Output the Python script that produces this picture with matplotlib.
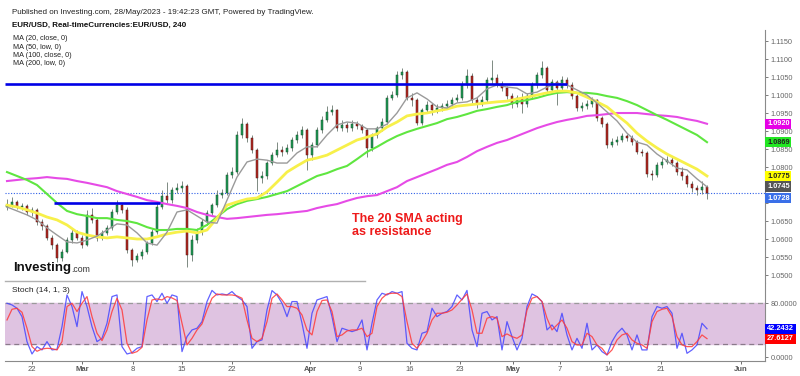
"""EUR/USD 4h chart with moving averages and stochastic, Investing.com style."""
import matplotlib
matplotlib.use("Agg")
import matplotlib.pyplot as plt
from matplotlib.lines import Line2D
import numpy as np

plt.rcParams["font.family"] = ["Liberation Sans", "DejaVu Sans"]

# ---- price data (one candle per half trading day) ----
first_open = 1.0690
closes = [
    1.0694, 1.0703, 1.0689, 1.0692, 1.0675, 1.0681, 1.0647, 1.0636, 1.0603, 1.0583,
    1.0547, 1.0564, 1.0597, 1.0617, 1.0603, 1.0583, 1.0667, 1.0653, 1.0603, 1.0617,
    1.0631, 1.0675, 1.0694, 1.0681, 1.0569, 1.0542, 1.0553, 1.0564, 1.0589, 1.0619,
    1.0689, 1.0719, 1.0708, 1.0736, 1.0742, 1.0747, 1.0556, 1.0597, 1.0619, 1.0647,
    1.0672, 1.0694, 1.0722, 1.0728, 1.0778, 1.0786, 1.0889, 1.0919, 1.0881, 1.0847,
    1.0769, 1.0775, 1.0811, 1.0833, 1.0847, 1.0842, 1.0853, 1.0875, 1.0889, 1.0903,
    1.0833, 1.0861, 1.0903, 1.0931, 1.0953, 1.0958, 1.0908, 1.0917, 1.0908, 1.0919,
    1.0914, 1.0903, 1.0853, 1.0889, 1.0908, 1.0925, 1.0992, 1.1000, 1.1056, 1.1064,
    1.0992, 1.0986, 1.0922, 1.0958, 1.0972, 1.0958, 1.0964, 1.0969, 1.0975, 1.0986,
    1.0992, 1.1028, 1.1053, 1.0986, 1.0975, 1.0986, 1.1042, 1.1047, 1.1031, 1.1019,
    1.0997, 1.0975, 1.0992, 1.0975, 1.0997, 1.1028, 1.1056, 1.1075, 1.1014, 1.1036,
    1.1019, 1.1042, 1.1028, 1.0997, 1.0964, 1.0969, 1.0975, 1.0986, 1.0936, 1.0919,
    1.0861, 1.0869, 1.0875, 1.0886, 1.0881, 1.0869, 1.0842, 1.0839, 1.0781, 1.0778,
    1.0806, 1.0814, 1.0819, 1.0811, 1.0786, 1.0775, 1.0753, 1.0742, 1.0736, 1.0744,
    1.0728,
]
highs = [
    1.0712, 1.0716, 1.0708, 1.0700, 1.0697, 1.0690, 1.0686, 1.0655, 1.0642, 1.0610,
    1.0588, 1.0572, 1.0605, 1.0630, 1.0625, 1.0610, 1.0680, 1.0685, 1.0660, 1.0625,
    1.0640, 1.0682, 1.0708, 1.0700, 1.0688, 1.0575, 1.0560, 1.0572, 1.0595, 1.0628,
    1.0700, 1.0735, 1.0758, 1.0745, 1.0756, 1.0760, 1.0752, 1.0610, 1.0630, 1.0655,
    1.0680, 1.0700, 1.0735, 1.0740, 1.0785, 1.0800, 1.0900, 1.0935, 1.0925, 1.0888,
    1.0852, 1.0790, 1.0818, 1.0842, 1.0870, 1.0858, 1.0865, 1.0882, 1.0900, 1.0915,
    1.0908, 1.0870, 1.0910, 1.0942, 1.0970, 1.0973, 1.0962, 1.0930, 1.0925, 1.0930,
    1.0928, 1.0920, 1.0908, 1.0895, 1.0915, 1.0935, 1.1000, 1.1012, 1.1068, 1.1075,
    1.1070, 1.1005, 1.0992, 1.0965, 1.0982, 1.0978, 1.0975, 1.0978, 1.0985, 1.0995,
    1.1002, 1.1040, 1.1072, 1.1060, 1.0995, 1.0998, 1.1050, 1.1097, 1.1058, 1.1040,
    1.1025, 1.1005, 1.1000, 1.1005, 1.1005, 1.1035, 1.1065, 1.1095, 1.1080, 1.1045,
    1.1042, 1.1052, 1.1050, 1.1035, 1.1003, 1.0980, 1.0985, 1.0995, 1.0990, 1.0942,
    1.0925, 1.0880, 1.0885, 1.0895, 1.0892, 1.0888, 1.0875, 1.0850, 1.0845, 1.0792,
    1.0815, 1.0825, 1.0830, 1.0828, 1.0818, 1.0800, 1.0780, 1.0760, 1.0750, 1.0762,
    1.0750,
]
lows = [
    1.0680, 1.0688, 1.0682, 1.0680, 1.0668, 1.0664, 1.0640, 1.0625, 1.0596, 1.0572,
    1.0535, 1.0540, 1.0560, 1.0590, 1.0596, 1.0575, 1.0580, 1.0645, 1.0594, 1.0598,
    1.0610, 1.0625, 1.0670, 1.0672, 1.0560, 1.0525, 1.0535, 1.0545, 1.0558, 1.0582,
    1.0615, 1.0682, 1.0700, 1.0700, 1.0728, 1.0730, 1.0522, 1.0540, 1.0590, 1.0612,
    1.0640, 1.0665, 1.0688, 1.0715, 1.0722, 1.0770, 1.0780, 1.0880, 1.0870, 1.0838,
    1.0733, 1.0755, 1.0768, 1.0805, 1.0828, 1.0830, 1.0835, 1.0845, 1.0868, 1.0880,
    1.0792, 1.0820, 1.0855, 1.0895, 1.0925, 1.0945, 1.0900, 1.0900, 1.0898, 1.0900,
    1.0905, 1.0895, 1.0828, 1.0845, 1.0880, 1.0900, 1.0920, 1.0985, 1.0995, 1.1045,
    1.0985, 1.0970, 1.0917, 1.0918, 1.0950, 1.0945, 1.0950, 1.0955, 1.0960, 1.0968,
    1.0980, 1.0985, 1.1020, 1.0978, 1.0965, 1.0970, 1.0980, 1.1030, 1.1022, 1.1010,
    1.0988, 1.0965, 1.0968, 1.0950, 1.0968, 1.0990, 1.1020, 1.1048, 1.1005, 1.1008,
    1.0972, 1.1012, 1.1020, 1.0990, 1.0955, 1.0955, 1.0962, 1.0968, 1.0928, 1.0910,
    1.0852, 1.0855, 1.0862, 1.0870, 1.0872, 1.0862, 1.0835, 1.0830, 1.0772, 1.0765,
    1.0772, 1.0798, 1.0808, 1.0802, 1.0778, 1.0765, 1.0745, 1.0730, 1.0722, 1.0725,
    1.0710,
]

# ---- moving averages, one reading per trading day ----
ma20 = [
    1.0689, 1.0678, 1.0667, 1.0653, 1.0631, 1.0611, 1.0592, 1.0589, 1.0597, 1.0608,
    1.0625, 1.0642, 1.0639, 1.0617, 1.0589, 1.0583, 1.0619, 1.0675, 1.0681, 1.0664,
    1.0647, 1.0644, 1.0708, 1.0772, 1.0814, 1.0822, 1.0819, 1.0811, 1.0811, 1.0839,
    1.0856, 1.0856, 1.0889, 1.0917, 1.0925, 1.0922, 1.0906, 1.0906, 1.0919, 1.0950,
    1.0992, 1.1006, 1.0989, 1.0967, 1.0964, 1.0978, 1.0981, 1.0992, 1.1017, 1.1028,
    1.1022, 1.1019, 1.1003, 1.1008, 1.1022, 1.1033, 1.1028, 1.1014, 1.1000, 1.0978,
    1.0953, 1.0928, 1.0894, 1.0869, 1.0861, 1.0836, 1.0817, 1.0797, 1.0792, 1.0767,
    1.0745,
]
ma50 = [
    1.0694, 1.0689, 1.0681, 1.0672, 1.0661, 1.0653, 1.0639, 1.0619, 1.0611, 1.0606,
    1.0603, 1.0606, 1.0603, 1.0600, 1.0600, 1.0606, 1.0614, 1.0619, 1.0622, 1.0617,
    1.0625, 1.0658, 1.0694, 1.0703, 1.0711, 1.0714, 1.0731, 1.0758, 1.0786, 1.0803,
    1.0819, 1.0825, 1.0833, 1.0847, 1.0861, 1.0875, 1.0883, 1.0892, 1.0911, 1.0925,
    1.0942, 1.0947, 1.0950, 1.0956, 1.0961, 1.0969, 1.0972, 1.0975, 1.0978, 1.0981,
    1.0983, 1.0989, 1.0994, 1.1000, 1.1006, 1.1011, 1.1011, 1.1006, 1.0994, 1.0981,
    1.0967, 1.0944, 1.0922, 1.0894, 1.0872, 1.0853, 1.0836, 1.0822, 1.0808, 1.0794,
    1.0775,
]
ma100 = [
    1.0786, 1.0775, 1.0764, 1.0750, 1.0725, 1.0700, 1.0678, 1.0669, 1.0664, 1.0658,
    1.0658, 1.0653, 1.0650, 1.0644, 1.0633, 1.0625, 1.0625, 1.0628, 1.0628, 1.0625,
    1.0639, 1.0661, 1.0683, 1.0697, 1.0706, 1.0711, 1.0717, 1.0725, 1.0733, 1.0747,
    1.0761, 1.0775, 1.0783, 1.0794, 1.0803, 1.0822, 1.0842, 1.0856, 1.0872, 1.0886,
    1.0897, 1.0906, 1.0914, 1.0922, 1.0933, 1.0939, 1.0947, 1.0956, 1.0961, 1.0967,
    1.0972, 1.0981, 1.0986, 1.0992, 1.1000, 1.1006, 1.1008, 1.1006, 1.1006, 1.1003,
    1.0997, 1.0992, 1.0983, 1.0972, 1.0958, 1.0944, 1.0931, 1.0917, 1.0903, 1.0889,
    1.0869,
]
ma200 = [
    1.0761, 1.0764, 1.0767, 1.0769, 1.0772, 1.0769, 1.0767, 1.0761, 1.0756, 1.0750,
    1.0744, 1.0733, 1.0725, 1.0717, 1.0708, 1.0703, 1.0697, 1.0692, 1.0686, 1.0675,
    1.0667, 1.0661, 1.0656, 1.0658, 1.0661, 1.0664, 1.0667, 1.0669, 1.0672, 1.0675,
    1.0678, 1.0686, 1.0692, 1.0697, 1.0706, 1.0714, 1.0719, 1.0722, 1.0733, 1.0744,
    1.0761, 1.0772, 1.0783, 1.0794, 1.0806, 1.0814, 1.0828, 1.0844, 1.0856, 1.0867,
    1.0875, 1.0886, 1.0897, 1.0908, 1.0917, 1.0925, 1.0931, 1.0936, 1.0942, 1.0944,
    1.0947, 1.0950, 1.0950, 1.0950, 1.0947, 1.0944, 1.0942, 1.0939, 1.0933, 1.0928,
    1.0920,
]

# ---- stochastic (14, 1, 3), one reading per candle ----
stoch_k = [
    80.0, 77.5, 72.6, 60.2, 23.2, 4.9, 15.8, 10.9, 23.2, 10.9,
    11.9, 45.4, 92.3, 75.1, 45.4, 97.3, 75.1, 45.4, 23.2, 28.1,
    50.4, 89.9, 92.3, 15.8, 4.9, 6.9, 13.3, 15.8, 89.9, 92.3,
    82.5, 94.8, 80.0, 92.3, 89.9, 8.4, 30.6, 40.5, 43.0, 52.8,
    82.5, 99.0, 92.3, 93.8, 92.3, 97.3, 89.9, 84.9, 75.1, 13.3,
    23.2, 25.7, 70.1, 98.8, 92.3, 80.0, 60.2, 82.5, 82.5, 50.4,
    13.3, 65.2, 84.9, 87.4, 89.9, 60.2, 23.2, 43.0, 40.5, 38.0,
    40.5, 55.3, 10.9, 50.4, 84.9, 94.8, 92.3, 97.3, 94.8, 97.3,
    20.7, 13.3, 10.9, 35.6, 38.0, 72.6, 60.2, 65.2, 67.7, 75.1,
    92.3, 84.9, 99.0, 40.5, 15.8, 65.2, 67.7, 55.3, 60.2, 10.9,
    52.8, 30.6, 10.9, 28.1, 75.1, 93.8, 89.9, 82.5, 40.5, 47.9,
    38.0, 65.2, 33.1, 10.9, 28.1, 13.3, 50.4, 10.9, 18.3, 8.4,
    3.5, 23.2, 35.6, 43.0, 33.1, 10.9, 33.1, 10.9, 10.9, 60.2,
    75.1, 72.6, 75.1, 65.2, 13.3, 35.6, 5.9, 10.9, 18.3, 50.4,
    42.24,
]
stoch_d = [
    55.3, 71.1, 72.6, 66.7, 43.0, 15.8, 8.9, 12.3, 13.3, 12.8,
    10.9, 23.2, 75.1, 80.0, 67.7, 80.0, 89.9, 60.2, 35.6, 24.7,
    40.5, 67.7, 87.4, 70.1, 20.7, 5.9, 8.4, 14.8, 55.3, 84.9,
    86.4, 84.9, 89.9, 87.9, 84.0, 50.4, 18.3, 28.1, 40.5, 49.4,
    70.1, 87.4, 93.8, 92.3, 92.3, 92.3, 90.9, 87.4, 55.3, 28.1,
    23.2, 28.1, 52.8, 87.4, 93.8, 84.9, 75.1, 75.1, 72.6, 62.7,
    40.5, 33.1, 67.7, 84.0, 84.9, 67.7, 30.6, 33.1, 39.0, 40.5,
    40.5, 43.0, 30.6, 35.6, 75.1, 87.4, 93.8, 94.8, 94.8, 89.9,
    52.8, 20.7, 13.3, 23.2, 35.6, 55.3, 65.2, 65.2, 66.7, 70.1,
    77.5, 85.9, 93.8, 70.1, 35.6, 35.6, 57.8, 60.2, 57.8, 30.6,
    34.6, 30.6, 28.1, 33.1, 70.1, 87.4, 89.9, 82.5, 57.8, 40.5,
    47.9, 55.3, 43.0, 23.2, 18.3, 18.3, 35.6, 30.6, 18.3, 13.3,
    3.5, 10.9, 25.7, 33.1, 35.6, 25.7, 20.7, 18.3, 13.3, 52.8,
    67.7, 71.1, 72.6, 60.2, 30.6, 18.3, 15.8, 15.8, 23.2, 33.1,
    27.61,
]

# date labels (position in candles from the first one)
date_pos = [5, 15, 25.2, 35, 45, 60.6, 70.6, 80.6, 90.6, 101.2, 110.6, 120.4, 130.8, 146.8]
date_labels = ["22", "Mar", "8", "15", "22", "Apr", "9", "16", "23", "May", "7", "14", "21", "Jun"]
months = {"Mar", "Apr", "May", "Jun"}

# drawn levels
resistance = 1.1031
resistance_end = 112
support = 1.0700
support_span = (9.4, 30.6)

UP, DOWN, WICK = "#1f9a55", "#b52a22", "#7d8a82"
MA_COLORS = {"ma200": "#e64be6", "ma100": "#5fe640", "ma50": "#f7f04a", "ma20": "#9a9a9a"}

W, H = 800, 376
fig = plt.figure(figsize=(W / 100, H / 100), dpi=100)
fig.patch.set_facecolor("white")


def px_axes(left, top, right, bottom):
    return fig.add_axes([left / W, 1 - bottom / H, (right - left) / W, (bottom - top) / H])


ax = px_axes(5, 30, 765, 283)
st = px_axes(5, 283, 765, 361)
XLIM = (-0.4, 151.6)

# ---- main pane ----
c = np.array(closes)
o = np.array([first_open] + closes[:-1])
hi, lo = np.array(highs), np.array(lows)
idx = np.arange(len(c))
up = c >= o
ax.vlines(idx, lo, hi, color=WICK, lw=0.7, zorder=2)
ax.bar(idx[up], (c - o)[up], bottom=o[up], width=0.58, color=UP,
       edgecolor="#174d2c", linewidth=0.35, zorder=3)
ax.bar(idx[~up], (c - o)[~up], bottom=o[~up], width=0.58, color=DOWN,
       edgecolor="#4a1512", linewidth=0.35, zorder=3)

day_x = np.arange(len(ma20)) * 2
ax.plot(day_x, ma200, color=MA_COLORS["ma200"], lw=1.5, zorder=4)
ax.plot(day_x, ma100, color=MA_COLORS["ma100"], lw=1.5, zorder=4)
ax.plot(day_x, ma50, color=MA_COLORS["ma50"], lw=2.0, zorder=4)
ax.plot(day_x, ma20, color=MA_COLORS["ma20"], lw=1.0, zorder=5)

ax.hlines(resistance, XLIM[0], resistance_end, color="#0000e6", lw=1.9, zorder=6)
ax.hlines(support, *support_span, color="#0000e6", lw=1.9, zorder=6)
ax.axhline(closes[-1], color="#2f5fe8", lw=0.8, ls=(0, (1, 1.5)), zorder=1)

ax.text(69, 1.0638, "The 20 SMA acting\nas resistance", color="#ee1a1a", fontsize=9,
        fontweight="bold", ha="left", va="center", linespacing=1.15, zorder=7)

ax.set_xlim(*XLIM)
ax.set_ylim(1.04778, 1.11806)
ax.set_xticks([])
yt = np.round(np.arange(1.05, 1.1151, 0.005), 4)
hidden = {1.075, 1.07}  # covered by the price tags
ax.yaxis.tick_right()
ax.set_yticks(yt)
ax.set_yticklabels(["" if v in hidden else f"{v:.4f}" for v in yt])
for s in ("top", "left", "bottom"):
    ax.spines[s].set_visible(False)
ax.spines["right"].set_color("#8a8a8a")
ax.tick_params(axis="y", labelsize=5.3, colors="#666", length=2.5, width=0.6, pad=1.5)


def value_tag(axis, y, text, fc, tc="white"):
    axis.annotate(text, xy=(1.0, y), xycoords=("axes fraction", "data"),
                  xytext=(1.5, 0), textcoords="offset points", ha="left", va="center",
                  fontsize=5.3, fontweight="bold", color=tc, zorder=10,
                  bbox=dict(boxstyle="square,pad=0.22", fc=fc, ec="none"),
                  annotation_clip=False)


value_tag(ax, 1.0920, "1.0920", "#e600e6")
value_tag(ax, 1.0869, "1.0869", "#22e622", "#222")
value_tag(ax, 1.0775, "1.0775", "#ffff00", "#222")
value_tag(ax, 1.0746, "1.0745", "#555555")
value_tag(ax, 1.0713, "1.0728", "#3a6fe8")

# ---- stochastic pane ----
st.axhspan(20, 80, color="#dfc3e1", zorder=0)
st.axhline(80, color="#9a9a9a", lw=0.9, ls=(0, (4, 3)), zorder=1)
st.axhline(20, color="#8a7a8a", lw=0.9, ls=(0, (4, 3)), zorder=1)
st.plot(np.arange(len(stoch_k)), stoch_k, color="#4646ff", lw=0.9, alpha=0.85, zorder=3)
st.plot(np.arange(len(stoch_d)), stoch_d, color="#ff3a3a", lw=0.9, alpha=0.85, zorder=4)
st.set_xlim(*XLIM)
st.set_ylim(-5.5, 110)
st.yaxis.tick_right()
st.set_yticks([0, 80])
st.set_yticklabels(["0.0000", "80.0000"])
st.set_xticks(date_pos)
st.set_xticklabels(date_labels)
for lab in st.get_xticklabels():
    if lab.get_text() in months:
        lab.set_fontweight("bold")
for s in ("top", "left"):
    st.spines[s].set_visible(False)
st.spines["right"].set_color("#8a8a8a")
st.spines["bottom"].set_color("#8a8a8a")
st.tick_params(axis="y", labelsize=5.3, colors="#666", length=2.5, width=0.6, pad=1.5)
st.tick_params(axis="x", labelsize=5.5, colors="#555", length=2, width=0.6, pad=1.5)
st.text(0.009, 0.9, "Stoch (14, 1, 3)", transform=st.transAxes, fontsize=6, color="#222",
        va="center", ha="left")
value_tag(st, 42.24, "42.2432", "#0000ff")
value_tag(st, 27.61, "27.6127", "#ff0000")

# ---- header, legend, logo ----
fig.text(12 / W, 1 - 12 / H, "Published on Investing.com, 28/May/2023 - 19:42:23 GMT, Powered by TradingView.",
         fontsize=5.8, color="#222", va="center")
fig.text(12 / W, 1 - 25 / H, "EUR/USD, Real-timeCurrencies:EUR/USD, 240",
         fontsize=5.8, fontweight="bold", color="#111", va="center")
for k, txt in enumerate(["MA (20, close, 0)", "MA (50, low, 0)", "MA (100, close, 0)", "MA (200, low, 0)"]):
    fig.text(13 / W, 1 - (39 + 8.2 * k) / H, txt, fontsize=5.2, color="#222", va="center")

fig.text(13 / W, 1 - 268 / H, "Investing", fontsize=9.5, fontweight="bold", color="#111", va="center")
fig.text(71 / W, 1 - 269.5 / H, ".com", fontsize=6.3, color="#333", va="center")
fig.add_artist(Line2D([5 / W, 365 / W], [1 - 281 / H] * 2, color="#b0b0b0", lw=1))

fig.savefig("out.png", dpi=100)
